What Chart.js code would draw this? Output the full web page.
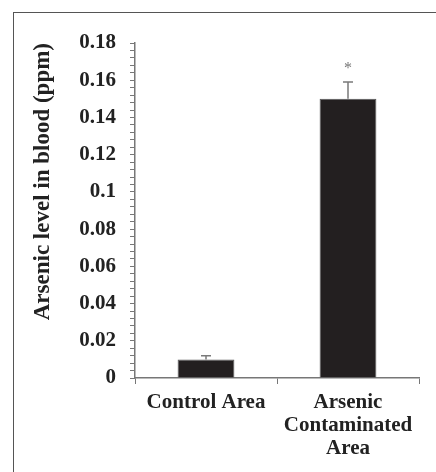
<!DOCTYPE html>
<html>
<head>
<meta charset="utf-8">
<script src="https://cdn.jsdelivr.net/npm/chart.js@4.4.0/dist/chart.umd.min.js"></script>
<style>
  body { margin: 0; background: #fff; }
  #wrap { position: relative; width: 436px; height: 472px; overflow: hidden; }
  #frame { position: absolute; left: 13px; top: 12px; width: 600px; height: 600px; border: 1px solid #555; }
  canvas { position: absolute; left: 0; top: 0; }
</style>
</head>
<body>
<div id="wrap">
  <div id="frame"></div>
  <canvas id="arsenic" width="436" height="472"></canvas>
</div>
<script>
var categories = ['Control Area', ['Arsenic', 'Contaminated', 'Area']];
var levels = [0.01, 0.15];
var errors = [0.002, 0.009];
var marks = ['', '*'];
var yTickLabels = ['0', '0.02', '0.04', '0.06', '0.08', '0.1', '0.12', '0.14', '0.16', '0.18'];

var serif = "'Liberation Serif', 'Times New Roman', serif";

// error bars + significance star, placed through the y scale
var errorBars = {
    id: 'errorBars',
    afterDatasetsDraw: function(chart) {
        var ctx = chart.ctx;
        var y = chart.scales.y;
        var meta = chart.getDatasetMeta(0);
        ctx.save();
        ctx.strokeStyle = '#7a7a7a';
        ctx.lineWidth = 1.5;
        meta.data.forEach(function(bar, i) {
            var top = y.getPixelForValue(levels[i] + errors[i]);
            ctx.beginPath();
            ctx.moveTo(bar.x, bar.y);
            ctx.lineTo(bar.x, top);
            ctx.moveTo(bar.x - 5, top);
            ctx.lineTo(bar.x + 5, top);
            ctx.stroke();
            if (marks[i]) {
                ctx.fillStyle = '#777';
                ctx.font = '16px ' + serif;
                ctx.textAlign = 'center';
                ctx.textBaseline = 'bottom';
                ctx.fillText(marks[i], bar.x, top - 5);
            }
        });
        ctx.restore();
    }
};

var ctx = document.getElementById('arsenic').getContext('2d');
var chart = new Chart(ctx, {
    type: 'bar',
    data: {
        labels: categories,
        datasets: [{
            data: levels,
            backgroundColor: '#231f20',
            borderColor: '#555',
            borderWidth: 1,
            categoryPercentage: 1,
            barPercentage: 0.4
        }]
    },
    options: {
        responsive: false,
        animation: false,
        layout: { padding: { top: 43, right: 17, left: 0, bottom: 0 } },
        plugins: { legend: { display: false }, tooltip: { enabled: false } },
        scales: {
            x: {
                afterFit: function(s) { s.height = 94; },
                grid: { drawOnChartArea: false, tickLength: 6, color: '#777' },
                border: { color: '#777', width: 1.5 },
                ticks: {
                    color: '#222',
                    padding: 7,
                    font: { family: serif, size: 21, weight: 'bold', lineHeight: 1.1 },
                    maxRotation: 0
                }
            },
            y: {
                min: 0,
                max: 0.18,
                afterFit: function(s) { s.width = 135; },
                grid: { drawOnChartArea: false, tickLength: 5, color: '#777' },
                border: { color: '#777', width: 1.5 },
                ticks: {
                    stepSize: 0.004,
                    autoSkip: false,
                    color: '#222',
                    padding: 14,
                    font: { family: serif, size: 21, weight: 'bold' },
                    callback: function(v) {
                        var k = v / 0.02;
                        if (Math.abs(k - Math.round(k)) < 1e-6) return yTickLabels[Math.round(k)];
                        return '';
                    }
                },
                title: {
                    display: true,
                    text: 'Arsenic level in blood (ppm)',
                    align: 'end',
                    color: '#222',
                    padding: { top: 29, bottom: 0 },
                    font: { family: serif, size: 23, weight: 'bold' }
                }
            }
        }
    },
    plugins: [errorBars]
});
</script>
</body>
</html>
